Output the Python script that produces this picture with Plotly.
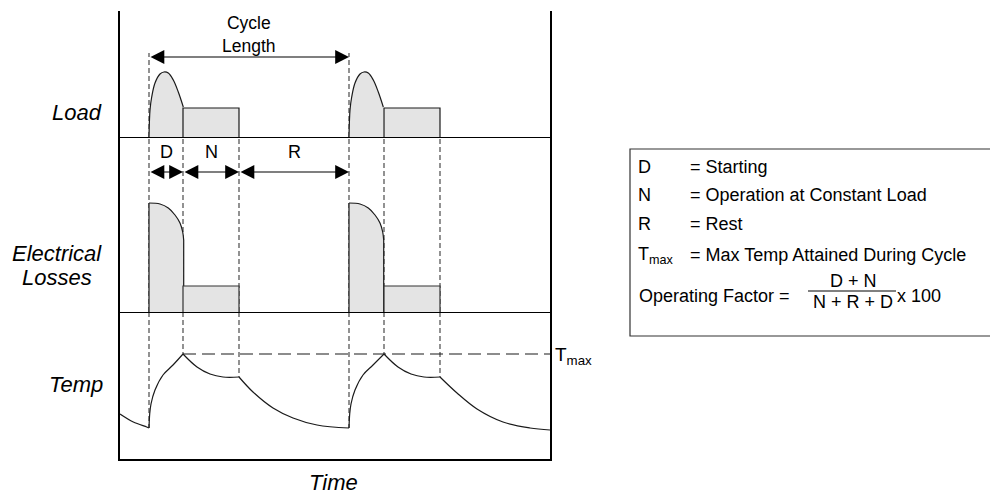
import plotly.graph_objects as go

# ---------------- data (time in arbitrary units, frame spans 0..430) ----------------
time_range = [0, 430]
cycle_start = [29, 229]
d_end = [63, 264]
n_end = [119, 320]

# Load panel (units: 0 at baseline)
load_range = [0, 126]
load_hump_dt = [0, 1, 2.7, 6, 11, 15, 19.3, 24.3, 29.3, 34.3]
load_hump_val = [0, 27, 40, 54, 63, 65, 64, 57, 45, 30]
load_const = 29
cycle_arrow_level = 80

# Electrical losses panel
loss_range = [0, 175]
loss_curve_dt = [0, 11, 19.3, 26, 31, 33.7, 34.7]
loss_curve_val = [109, 108, 104, 97, 89, 80, 72]
loss_const = 26
phase_arrow_level = 140
phase_labels = ["D", "N", "R"]

# Temperature panel
temp_range = [0, 147]
temp_segments = [
    ([0, 13.3, 26.7, 29], [45, 37, 32, 31]),
    ([29, 29.7, 31, 35, 43, 53, 63], [31, 45, 55, 69, 84, 94, 105]),
    ([63, 77, 90, 103, 119], [105, 92, 85, 82, 82]),
    ([119, 133, 153, 173, 197, 229], [82, 67, 51, 41, 34, 31]),
    ([229, 229.7, 231, 235, 243, 253, 264], [31, 45, 55, 69, 84, 94, 105]),
    ([264, 278, 291, 304, 320], [105, 92, 85, 82, 82]),
    ([320, 337, 357, 383, 410, 430], [82, 66, 50, 37, 31, 29]),
]
t_max = 105

legend_rows = [
    ("D", "= Starting"),
    ("N", "= Operation at Constant Load"),
    ("R", "= Rest"),
    ("T<sub>max</sub>", "= Max Temp Attained During Cycle"),
]

# ---------------- styling ----------------
W, H = 990, 496
INK = "#1a1a1a"
DASH_C = "#4a4a4a"
FILL_C = "#e4e4e4"
FONT = "Liberation Sans, Arial, sans-serif"


def px(x):
    return x / W


def py(y):
    return 1 - y / H


fig = go.Figure()

xdom = [px(120), px(550)]
dom_temp = [py(459), py(312)]
dom_loss = [py(312), py(137)]
dom_load = [py(137), py(11)]


def line_tr(x, y, xa, ya, color=INK, width=1.2, dash=None, shape="linear", fill=None):
    fig.add_trace(go.Scatter(
        x=x, y=y, xaxis=xa, yaxis=ya, mode="lines",
        line=dict(color=color, width=width, dash=dash, shape=shape, smoothing=1.0),
        fill=fill, fillcolor=FILL_C if fill else None,
        hoverinfo="skip", showlegend=False))


DASH = "5px,3px"

# dashed vertical guide lines
for i in range(2):
    cs, de, ne = cycle_start[i], d_end[i], n_end[i]
    line_tr([cs, cs], [0, cycle_arrow_level + 4], "x3", "y3", DASH_C, 1.2, DASH)
    for t in (cs, de, ne):
        line_tr([t, t], [0, loss_range[1]], "x2", "y2", DASH_C, 1.2, DASH)
    line_tr([cs, cs], [temp_range[1], 31], "x", "y", DASH_C, 1.2, DASH)
    line_tr([de, de], [temp_range[1], t_max], "x", "y", DASH_C, 1.2, DASH)
    line_tr([ne, ne], [temp_range[1], 82], "x", "y", DASH_C, 1.2, DASH)

# Tmax dashed line
line_tr([d_end[0], time_range[1]], [t_max, t_max], "x", "y", INK, 1.2, "13px,6px")

# load shapes
for i in range(2):
    cs, de, ne = cycle_start[i], d_end[i], n_end[i]
    hx = [cs + d for d in load_hump_dt]
    line_tr(hx, load_hump_val, "x3", "y3", INK, 1.2, None, "spline", "tozeroy")
    line_tr([de, de, ne, ne], [0, load_const, load_const, 0], "x3", "y3", INK, 1.2, None, "linear", "tozeroy")

# losses shapes
for i in range(2):
    cs, de, ne = cycle_start[i], d_end[i], n_end[i]
    lx = [cs + d for d in loss_curve_dt]
    line_tr(lx, loss_curve_val, "x2", "y2", INK, 1.2, None, "spline", "tozeroy")
    line_tr([cs, cs], [0, loss_curve_val[0]], "x2", "y2", INK, 1.2)
    line_tr([lx[-1], lx[-1]], [loss_curve_val[-1], 0], "x2", "y2", INK, 1.2)
    line_tr([de, de, ne, ne], [0, loss_const, loss_const, 0], "x2", "y2", "#333333", 1.2, None, "linear", "tozeroy")

# temperature curve
for tx, tv in temp_segments:
    line_tr(tx, tv, "x", "y", INK, 1.2, None, "spline")

ann = []
ARW = dict(arrowhead=2, arrowside="end+start", arrowsize=2.3, arrowwidth=1.2, arrowcolor="#000")
# cycle length arrow
ann.append(dict(x=cycle_start[1], y=cycle_arrow_level, ax=cycle_start[0], ay=cycle_arrow_level,
                xref="x3", yref="y3", axref="x3", ayref="y3", text="", showarrow=True, **ARW))
mid_cycle = (cycle_start[0] + cycle_start[1]) / 2
ann.append(dict(x=mid_cycle, y=103, xref="x3", yref="y3", text="Cycle<br>Length",
                yanchor="middle", showarrow=False, font=dict(size=17.5, family=FONT, color="#000")))
# phase arrows
bounds = [cycle_start[0], d_end[0], n_end[0], cycle_start[1]]
for k in range(3):
    a, b = bounds[k], bounds[k + 1]
    ann.append(dict(x=b, y=phase_arrow_level, ax=a, ay=phase_arrow_level,
                    xref="x2", yref="y2", axref="x2", ayref="y2", text="", showarrow=True, **ARW))
    ann.append(dict(x=(a + b) / 2, y=160, xref="x2", yref="y2", text=phase_labels[k],
                    showarrow=False, font=dict(size=18, family=FONT, color="#000")))

# Tmax label
ann.append(dict(x=px(553), y=py(356), xref="paper", yref="paper", xanchor="left", yanchor="middle",
                text="T<sub>max</sub>", showarrow=False, font=dict(size=19, family=FONT, color="#000")))

# left side labels
lab_font = dict(size=22, family=FONT, color="#000")


def side_label(text, x, y, anchor="right"):
    ann.append(dict(x=px(x), y=py(y), xref="paper", yref="paper", xanchor=anchor, yanchor="middle",
                    text="<i>" + text + "</i>", showarrow=False, font=lab_font))


side_label("Load", 104, 113)
side_label("Electrical", 57, 253, "center")
side_label("Losses", 57, 277, "center")
side_label("Temp", 105, 384)
ann.append(dict(x=px(333), y=py(482), xref="paper", yref="paper", xanchor="center", yanchor="middle",
                text="<i>Time</i>", showarrow=False, font=lab_font))

# legend box text
leg_font = dict(size=18, family=FONT, color="#000")
row_y = [167, 195, 224, 255]
for (sym, desc), yy in zip(legend_rows, row_y):
    ann.append(dict(x=px(636), y=py(yy), xref="paper", yref="paper", xanchor="left", yanchor="middle",
                    text=sym, showarrow=False, font=leg_font))
    ann.append(dict(x=px(688), y=py(yy), xref="paper", yref="paper", xanchor="left", yanchor="middle",
                    text=desc, showarrow=False, font=leg_font))
ann.append(dict(x=px(637), y=py(296), xref="paper", yref="paper", xanchor="left", yanchor="middle",
                text="Operating Factor =", showarrow=False, font=leg_font))
ann.append(dict(x=px(853), y=py(281), xref="paper", yref="paper", xanchor="center", yanchor="middle",
                text="D + N", showarrow=False, font=leg_font))
ann.append(dict(x=px(853), y=py(302), xref="paper", yref="paper", xanchor="center", yanchor="middle",
                text="N + R + D", showarrow=False, font=leg_font))
ann.append(dict(x=px(895), y=py(296), xref="paper", yref="paper", xanchor="left", yanchor="middle",
                text="x 100", showarrow=False, font=leg_font))

shapes = [
    dict(type="rect", xref="paper", yref="paper", x0=px(630), x1=px(991), y0=py(336), y1=py(149),
         line=dict(color="#333", width=1.2), fillcolor="rgba(0,0,0,0)"),
    dict(type="line", xref="paper", yref="paper", x0=px(808), x1=px(896), y0=py(291), y1=py(291),
         line=dict(color="#000", width=1)),
]


def xax(anchor, width):
    return dict(domain=xdom, range=time_range, anchor=anchor, showline=True, linewidth=width,
                linecolor="#000", mirror=False, showgrid=False, zeroline=False, showticklabels=False,
                ticks="", fixedrange=True)


def yax(dom, rng, anchor):
    return dict(domain=dom, range=rng, anchor=anchor, showline=True, linewidth=2, linecolor="#000",
                mirror=True, showgrid=False, zeroline=False, showticklabels=False, ticks="",
                fixedrange=True)


xa1 = xax("y", 2)
xa2 = xax("y2", 1.2); xa2["matches"] = "x"
xa3 = xax("y3", 1.2); xa3["matches"] = "x"
ya1 = yax(dom_temp, temp_range, "x")
ya2 = yax(dom_loss, loss_range, "x2")
ya3 = yax(dom_load, load_range, "x3")

fig.update_layout(
    width=W, height=H, margin=dict(l=0, r=0, t=0, b=0),
    paper_bgcolor="white", plot_bgcolor="rgba(0,0,0,0)",
    xaxis=xa1, xaxis2=xa2, xaxis3=xa3, yaxis=ya1, yaxis2=ya2, yaxis3=ya3,
    annotations=ann, shapes=shapes, showlegend=False,
    font=dict(family=FONT),
)

fig.write_html("out.html", config={"displayModeBar": False},
               post_script="document.body.style.margin='0';document.body.style.overflow='hidden';")
